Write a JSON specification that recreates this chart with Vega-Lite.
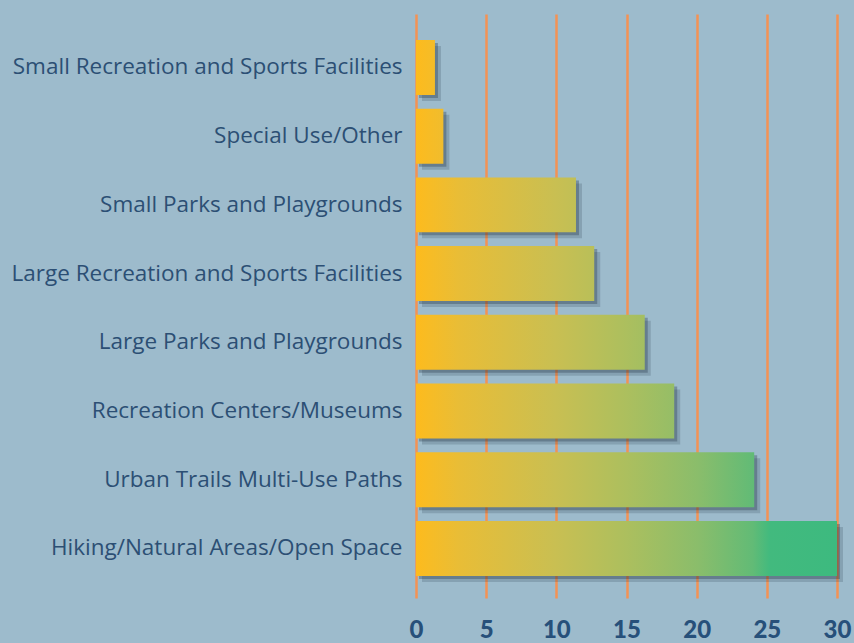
{
  "$schema": "https://vega.github.io/schema/vega-lite/v6.json",
  "width": 421,
  "height": 584,
  "autosize": {"type": "none"},
  "padding": {"left": 416, "top": 14, "right": 17, "bottom": 45},
  "background": "#9dbbcc",
  "config": {
    "view": {"stroke": null},
    "font": "Open Sans"
  },
  "data": {
    "values": [
      {"category": "Small Recreation and Sports Facilities", "value": 1.35},
      {"category": "Special Use/Other", "value": 1.95},
      {"category": "Small Parks and Playgrounds", "value": 11.4},
      {"category": "Large Recreation and Sports Facilities", "value": 12.7},
      {"category": "Large Parks and Playgrounds", "value": 16.3},
      {"category": "Recreation Centers/Museums", "value": 18.4},
      {"category": "Urban Trails Multi-Use Paths", "value": 24.1},
      {"category": "Hiking/Natural Areas/Open Space", "value": 30}
    ]
  },
  "encoding": {
    "y": {
      "field": "category",
      "type": "nominal",
      "sort": null,
      "scale": {"paddingInner": 0.2, "paddingOuter": 0.35, "align": 0.54},
      "axis": {
        "title": null,
        "domain": false,
        "ticks": false,
        "labelFontSize": 22.5,
        "labelColor": "#2c4f74",
        "labelPadding": 14,
        "labelLimit": 420,
        "labelFont": "Open Sans"
      }
    },
    "x": {
      "field": "value",
      "type": "quantitative",
      "scale": {"domain": [0, 30], "nice": false},
      "axis": {
        "title": null,
        "values": [0, 5, 10, 15, 20, 25, 30],
        "domain": false,
        "ticks": false,
        "grid": true,
        "gridColor": "#f39254",
        "gridWidth": 2.5,
        "gridOpacity": 1,
        "labelFontSize": 24,
        "labelFontWeight": 900,
        "labelColor": "#27507a",
        "labelPadding": 20,
        "labelFont": "Lato",
        "labelFlush": false
      }
    }
  },
  "layer": [
    {
      "mark": {"type": "bar", "color": "#1d2b3c", "opacity": 0.18, "xOffset": 6, "x2Offset": 6, "yOffset": 6, "y2Offset": 6}
    },
    {
      "mark": {"type": "bar", "color": "#1d2b3c", "opacity": 0.3, "xOffset": 3, "x2Offset": 3, "yOffset": 3, "y2Offset": 3}
    },
    {
      "mark": {"type": "bar"},
      "encoding": {
        "color": {
          "condition": [
            {"test": "datum.value < 1.5", "value": {"gradient": "linear", "x1": 0, "x2": 22.2, "y1": 0, "y2": 0, "stops": [{"offset": 0, "color": "#fdbb1d"}, {"offset": 0.03, "color": "#f7bc25"}, {"offset": 0.1, "color": "#e9bd36"}, {"offset": 0.33, "color": "#c9bf52"}, {"offset": 0.5, "color": "#acbf5e"}, {"offset": 0.67, "color": "#8abd6b"}, {"offset": 0.8, "color": "#62bb76"}, {"offset": 0.84, "color": "#42ba7e"}, {"offset": 1, "color": "#3dba7f"}]}},
            {"test": "datum.value < 2", "value": {"gradient": "linear", "x1": 0, "x2": 15.38, "y1": 0, "y2": 0, "stops": [{"offset": 0, "color": "#fdbb1d"}, {"offset": 0.03, "color": "#f7bc25"}, {"offset": 0.1, "color": "#e9bd36"}, {"offset": 0.33, "color": "#c9bf52"}, {"offset": 0.5, "color": "#acbf5e"}, {"offset": 0.67, "color": "#8abd6b"}, {"offset": 0.8, "color": "#62bb76"}, {"offset": 0.84, "color": "#42ba7e"}, {"offset": 1, "color": "#3dba7f"}]}},
            {"test": "datum.value < 12", "value": {"gradient": "linear", "x1": 0, "x2": 2.632, "y1": 0, "y2": 0, "stops": [{"offset": 0, "color": "#fdbb1d"}, {"offset": 0.03, "color": "#f7bc25"}, {"offset": 0.1, "color": "#e9bd36"}, {"offset": 0.33, "color": "#c9bf52"}, {"offset": 0.5, "color": "#acbf5e"}, {"offset": 0.67, "color": "#8abd6b"}, {"offset": 0.8, "color": "#62bb76"}, {"offset": 0.84, "color": "#42ba7e"}, {"offset": 1, "color": "#3dba7f"}]}},
            {"test": "datum.value < 13", "value": {"gradient": "linear", "x1": 0, "x2": 2.362, "y1": 0, "y2": 0, "stops": [{"offset": 0, "color": "#fdbb1d"}, {"offset": 0.03, "color": "#f7bc25"}, {"offset": 0.1, "color": "#e9bd36"}, {"offset": 0.33, "color": "#c9bf52"}, {"offset": 0.5, "color": "#acbf5e"}, {"offset": 0.67, "color": "#8abd6b"}, {"offset": 0.8, "color": "#62bb76"}, {"offset": 0.84, "color": "#42ba7e"}, {"offset": 1, "color": "#3dba7f"}]}},
            {"test": "datum.value < 17", "value": {"gradient": "linear", "x1": 0, "x2": 1.840, "y1": 0, "y2": 0, "stops": [{"offset": 0, "color": "#fdbb1d"}, {"offset": 0.03, "color": "#f7bc25"}, {"offset": 0.1, "color": "#e9bd36"}, {"offset": 0.33, "color": "#c9bf52"}, {"offset": 0.5, "color": "#acbf5e"}, {"offset": 0.67, "color": "#8abd6b"}, {"offset": 0.8, "color": "#62bb76"}, {"offset": 0.84, "color": "#42ba7e"}, {"offset": 1, "color": "#3dba7f"}]}},
            {"test": "datum.value < 19", "value": {"gradient": "linear", "x1": 0, "x2": 1.630, "y1": 0, "y2": 0, "stops": [{"offset": 0, "color": "#fdbb1d"}, {"offset": 0.03, "color": "#f7bc25"}, {"offset": 0.1, "color": "#e9bd36"}, {"offset": 0.33, "color": "#c9bf52"}, {"offset": 0.5, "color": "#acbf5e"}, {"offset": 0.67, "color": "#8abd6b"}, {"offset": 0.8, "color": "#62bb76"}, {"offset": 0.84, "color": "#42ba7e"}, {"offset": 1, "color": "#3dba7f"}]}},
            {"test": "datum.value < 25", "value": {"gradient": "linear", "x1": 0, "x2": 1.245, "y1": 0, "y2": 0, "stops": [{"offset": 0, "color": "#fdbb1d"}, {"offset": 0.03, "color": "#f7bc25"}, {"offset": 0.1, "color": "#e9bd36"}, {"offset": 0.33, "color": "#c9bf52"}, {"offset": 0.5, "color": "#acbf5e"}, {"offset": 0.67, "color": "#8abd6b"}, {"offset": 0.8, "color": "#62bb76"}, {"offset": 0.84, "color": "#42ba7e"}, {"offset": 1, "color": "#3dba7f"}]}}
          ],
          "value": {"gradient": "linear", "x1": 0, "x2": 1, "y1": 0, "y2": 0, "stops": [{"offset": 0, "color": "#fdbb1d"}, {"offset": 0.03, "color": "#f7bc25"}, {"offset": 0.1, "color": "#e9bd36"}, {"offset": 0.33, "color": "#c9bf52"}, {"offset": 0.5, "color": "#acbf5e"}, {"offset": 0.67, "color": "#8abd6b"}, {"offset": 0.8, "color": "#62bb76"}, {"offset": 0.84, "color": "#42ba7e"}, {"offset": 1, "color": "#3dba7f"}]}
        }
      }
    }
  ]
}
